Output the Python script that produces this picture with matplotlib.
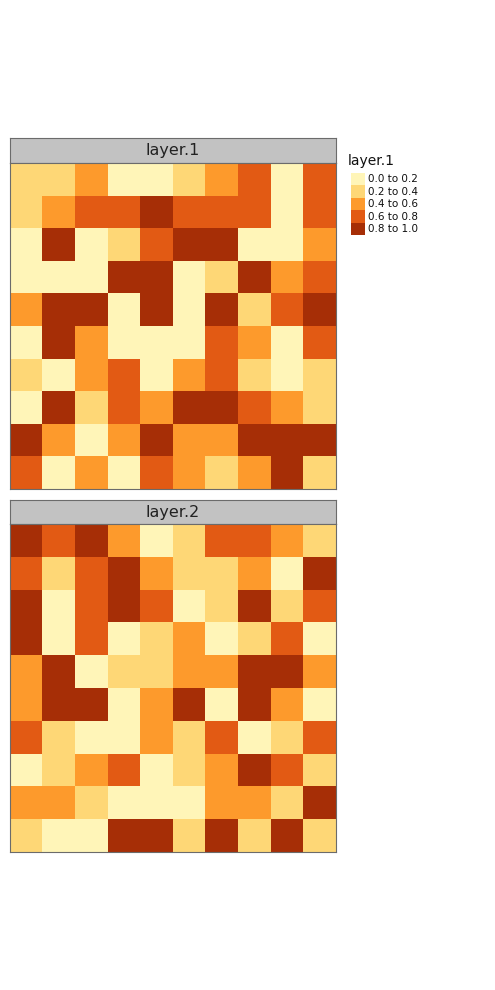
import numpy as np
import matplotlib
matplotlib.use("Agg")
import matplotlib.pyplot as plt
from matplotlib.colors import ListedColormap, BoundaryNorm
from matplotlib.patches import Rectangle

# class codes 1..5 (0.0-0.2 ... 0.8-1.0), rows top to bottom
layer1 = np.array([
    [2, 2, 3, 1, 1, 2, 3, 4, 1, 4],
    [2, 3, 4, 4, 5, 4, 4, 4, 1, 4],
    [1, 5, 1, 2, 4, 5, 5, 1, 1, 3],
    [1, 1, 1, 5, 5, 1, 2, 5, 3, 4],
    [3, 5, 5, 1, 5, 1, 5, 2, 4, 5],
    [1, 5, 3, 1, 1, 1, 4, 3, 1, 4],
    [2, 1, 3, 4, 1, 3, 4, 2, 1, 2],
    [1, 5, 2, 4, 3, 5, 5, 4, 3, 2],
    [5, 3, 1, 3, 5, 3, 3, 5, 5, 5],
    [4, 1, 3, 1, 4, 3, 2, 3, 5, 2],
])
layer2 = np.array([
    [5, 4, 5, 3, 1, 2, 4, 4, 3, 2],
    [4, 2, 4, 5, 3, 2, 2, 3, 1, 5],
    [5, 1, 4, 5, 4, 1, 2, 5, 2, 4],
    [5, 1, 4, 1, 2, 3, 1, 2, 4, 1],
    [3, 5, 1, 2, 2, 3, 3, 5, 5, 3],
    [3, 5, 5, 1, 3, 5, 1, 5, 3, 1],
    [4, 2, 1, 1, 3, 2, 4, 1, 2, 4],
    [1, 2, 3, 4, 1, 2, 3, 5, 4, 2],
    [3, 3, 2, 1, 1, 1, 3, 3, 2, 5],
    [2, 1, 1, 5, 5, 2, 5, 2, 5, 2],
])
layer_names = ["layer.1", "layer.2"]
legend_labels = ["0.0 to 0.2", "0.2 to 0.4", "0.4 to 0.6", "0.6 to 0.8", "0.8 to 1.0"]
colors = ["#FFF5B8", "#FED776", "#FD9A2C", "#E25A14", "#A62E06"]

cmap = ListedColormap(colors)
norm = BoundaryNorm([0.5, 1.5, 2.5, 3.5, 4.5, 5.5], cmap.N)

W, H = 495, 990
fig = plt.figure(figsize=(W / 100, H / 100), dpi=100)

def px_axes(x0, y0, x1, y1):
    # pixel box (top-left origin) -> figure axes
    return fig.add_axes([x0 / W, 1 - y1 / H, (x1 - x0) / W, (y1 - y0) / H])

frame_col = "#6b6b6b"
panels = [(layer1, 138, 163, 489), (layer2, 500, 524, 852)]
for (grid, ytop, ymap, ybot), name in zip(panels, layer_names):
    hax = px_axes(10, ytop, 336, ymap)
    hax.set_facecolor("#C2C2C2")
    hax.set_xticks([])
    hax.set_yticks([])
    for s in hax.spines.values():
        s.set_color(frame_col)
        s.set_linewidth(0.8)
    hax.text(0.5, 0.5, name, ha="center", va="center", fontsize=11.5,
             color="#222222", transform=hax.transAxes)

    ax = px_axes(10, ymap, 336, ybot)
    ax.imshow(grid, cmap=cmap, norm=norm, interpolation="nearest", aspect="auto")
    ax.set_xticks([])
    ax.set_yticks([])
    for s in ax.spines.values():
        s.set_color(frame_col)
        s.set_linewidth(0.8)

# legend
lax = fig.add_axes([0, 0, 1, 1])
lax.set_xlim(0, W)
lax.set_ylim(H, 0)
lax.axis("off")
lax.text(348, 161, layer_names[0], ha="left", va="center", fontsize=10, color="#111111")
for i, (c, lab) in enumerate(zip(colors, legend_labels)):
    y0 = 173 + i * 12.4
    lax.add_patch(Rectangle((351, y0), 14, 12.4, facecolor=c, edgecolor="none"))
    lax.text(368, y0 + 6.4, lab, ha="left", va="center", fontsize=7.5, color="#111111")

fig.savefig("out.png", dpi=100)
